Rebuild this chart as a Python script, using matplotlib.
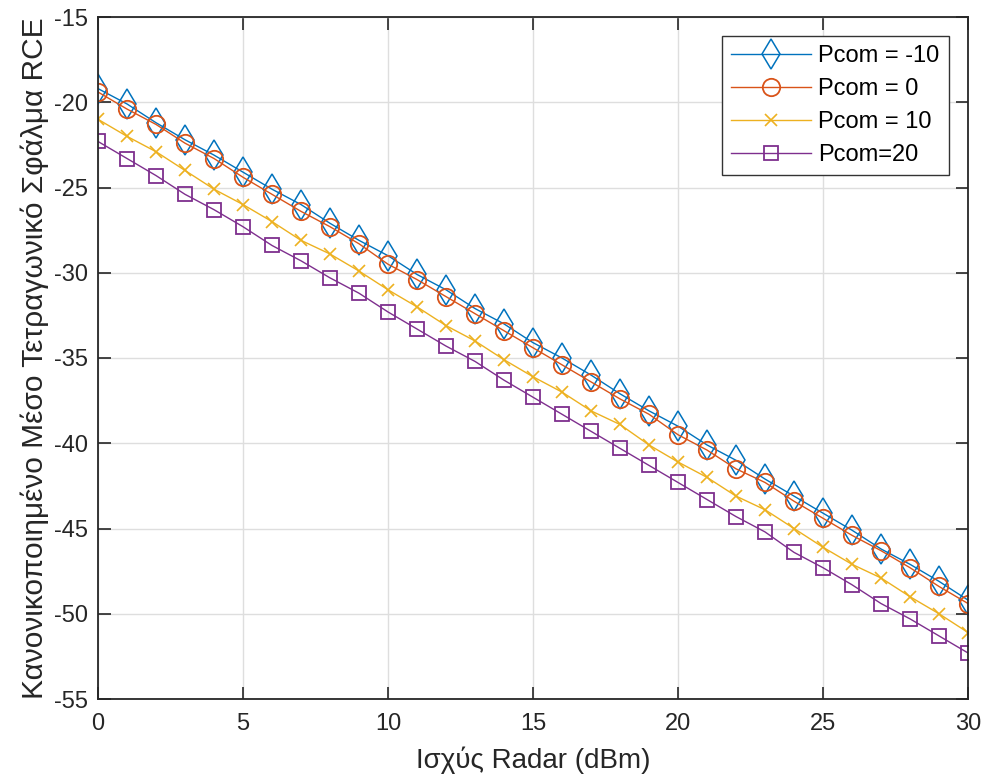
import matplotlib.pyplot as plt
import numpy as np

plt.rcParams['font.family'] = ['Liberation Sans', 'DejaVu Sans']
plt.rcParams['axes.unicode_minus'] = False

x = np.arange(0, 31)

pcom_m10 = [-19.2, -20.1, -21.2, -22.2, -23.1, -24.1, -25.1, -26.0, -27.1, -28.1,
            -29.0, -30.1, -31.0, -32.1, -33.0, -34.1, -35.0, -36.0, -37.1, -38.1,
            -39.0, -40.1, -41.0, -42.1, -43.1, -44.1, -45.1, -46.2, -47.1, -48.1, -49.2]
pcom_0 = [-19.4, -20.4, -21.3, -22.4, -23.3, -24.4, -25.4, -26.4, -27.3, -28.3,
          -29.5, -30.4, -31.4, -32.4, -33.4, -34.4, -35.4, -36.4, -37.4, -38.3,
          -39.5, -40.4, -41.5, -42.3, -43.4, -44.4, -45.4, -46.3, -47.3, -48.4, -49.4]
pcom_10 = [-21.0, -22.0, -22.9, -24.0, -25.1, -26.0, -27.0, -28.1, -28.9, -29.9,
           -31.0, -32.0, -33.1, -34.0, -35.1, -36.1, -37.0, -38.1, -38.9, -40.1,
           -41.1, -42.0, -43.1, -43.9, -45.0, -46.1, -47.1, -47.9, -49.0, -50.0, -51.1]
pcom_20 = [-22.3, -23.3, -24.3, -25.4, -26.3, -27.3, -28.4, -29.3, -30.3, -31.2,
           -32.3, -33.3, -34.3, -35.2, -36.3, -37.3, -38.3, -39.3, -40.3, -41.3,
           -42.3, -43.3, -44.3, -45.2, -46.4, -47.3, -48.3, -49.4, -50.3, -51.3, -52.3]

fig = plt.figure(figsize=(9.82, 7.81), dpi=100)
ax = fig.add_axes([98/982, 1 - 699/781, 870/982, 682/781])

ax.plot(x, pcom_m10, '-d', color=(0, 0.447, 0.741), lw=1, ms=15, mfc='none', mew=1.1, label='Pcom = -10')
ax.plot(x, pcom_0, '-o', color=(0.85, 0.325, 0.098), lw=1, ms=12.5, mfc='none', mew=1.3, label='Pcom = 0')
ax.plot(x, pcom_10, '-x', color=(0.929, 0.694, 0.125), lw=1, ms=8, mew=1.2, label='Pcom = 10')
ax.plot(x, pcom_20, '-s', color=(0.494, 0.184, 0.556), lw=1, ms=10, mfc='none', mew=1.3, label='Pcom=20')

ax.set_xlim(0, 30)
ax.set_ylim(-55, -15)
ax.set_xticks(range(0, 31, 5))
ax.set_yticks(range(-55, -14, 5))
ax.grid(True, color='#dedede', lw=1)
ax.set_axisbelow(True)
ax.tick_params(direction='in', top=True, right=True, labelsize=17, length=9, width=1.2,
               colors='#262626', labelcolor='#262626')
ax.tick_params(axis='x', pad=10)
ax.tick_params(axis='y', pad=7)
for s in ax.spines.values():
    s.set_linewidth(1.3)
    s.set_color('#262626')

ax.set_xlabel('Ισχύς Radar (dBm)', fontsize=20, color='#262626', labelpad=8)
ax.set_ylabel('Κανονικοποιημένο Μέσο Τετραγωνικό Σφάλμα RCE', fontsize=21.5, color='#262626', labelpad=4)

leg = ax.legend(loc='upper right', fontsize=17, fancybox=False, framealpha=1,
                edgecolor='#333333', handlelength=3.4, borderaxespad=0.8,
                labelspacing=0.46, handletextpad=0.3, borderpad=0.4)
leg.get_frame().set_linewidth(1)

fig.savefig('out.png', dpi=100)
